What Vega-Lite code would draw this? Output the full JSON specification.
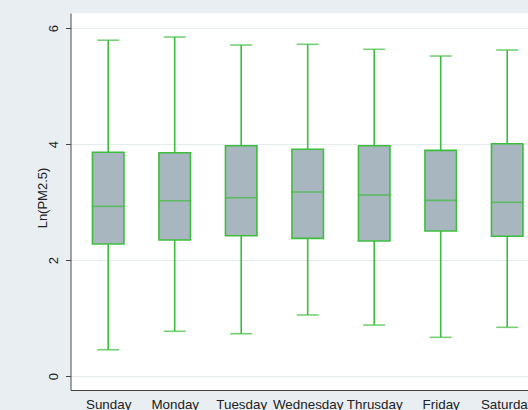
{
  "$schema": "https://vega.github.io/schema/vega-lite/v6.json",
  "width": 458,
  "height": 377,
  "autosize": "none",
  "padding": {"left": 70.5, "top": 13, "right": 0, "bottom": 20},
  "background": "#e8eef2",
  "config": {
    "view": {"fill": "white", "stroke": null},
    "font": "Liberation Sans"
  },
  "data": {
    "values": [
      {"day": "Sunday", "lower": 0.453, "q1": 2.276, "median": 2.926, "q3": 3.857, "upper": 5.79},
      {"day": "Monday", "lower": 0.771, "q1": 2.345, "median": 3.022, "q3": 3.85, "upper": 5.845},
      {"day": "Tuesday", "lower": 0.729, "q1": 2.419, "median": 3.074, "q3": 3.971, "upper": 5.707},
      {"day": "Wednesday", "lower": 1.052, "q1": 2.374, "median": 3.172, "q3": 3.909, "upper": 5.719},
      {"day": "Thrusday", "lower": 0.879, "q1": 2.328, "median": 3.121, "q3": 3.971, "upper": 5.633},
      {"day": "Friday", "lower": 0.667, "q1": 2.5, "median": 3.029, "q3": 3.891, "upper": 5.517},
      {"day": "Saturday", "lower": 0.84, "q1": 2.409, "median": 2.995, "q3": 4.005, "upper": 5.621}
    ]
  },
  "encoding": {
    "x": {
      "field": "day",
      "type": "nominal",
      "sort": ["Sunday", "Monday", "Tuesday", "Wednesday", "Thrusday", "Friday", "Saturday"],
      "scale": {"type": "point", "padding": 0.4435, "align": 0.639},
      "axis": {
        "title": null,
        "labelAngle": 0,
        "ticks": false,
        "labelPadding": 7,
        "labelFontSize": 13.4,
        "labelColor": "#222",
        "domainColor": "#444",
        "domainWidth": 1,
        "grid": false,
        "labelOverlap": false
      }
    }
  },
  "layer": [
    {
      "mark": {"type": "rule", "color": "#3cbe3c", "strokeWidth": 1.6},
      "encoding": {
        "y": {
          "field": "lower",
          "type": "quantitative",
          "scale": {"domain": [-0.241, 6.259], "nice": false, "zero": false},
          "axis": {
            "title": "Ln(PM2.5)",
            "values": [0, 2, 4, 6],
            "format": "d",
            "labelAngle": 270,
            "labelAlign": "center",
            "labelBaseline": "bottom",
            "labelPadding": 5,
            "labelFontSize": 13,
            "labelColor": "#222",
            "tickSize": 5,
            "tickColor": "#444",
            "domainColor": "#444",
            "domainWidth": 1,
            "grid": true,
            "gridColor": "#e4ecef",
            "gridWidth": 1,
            "titleFontSize": 13,
            "titleFontWeight": "normal",
            "titleColor": "#222",
            "titleAngle": 270,
            "titleAlign": "center",
            "titleBaseline": "bottom",
            "titleX": -21,
            "titleY": 184.5
          }
        },
        "y2": {"field": "upper"}
      }
    },
    {
      "mark": {"type": "tick", "color": "#3cbe3c", "thickness": 1.6, "size": 22, "orient": "horizontal"},
      "encoding": {"y": {"field": "upper", "type": "quantitative"}}
    },
    {
      "mark": {"type": "tick", "color": "#3cbe3c", "thickness": 1.6, "size": 22, "orient": "horizontal"},
      "encoding": {"y": {"field": "lower", "type": "quantitative"}}
    },
    {
      "mark": {"type": "bar", "size": 31.5, "fill": "#a8b6c0", "stroke": "#3cbe3c", "strokeWidth": 1.6},
      "encoding": {
        "y": {"field": "q1", "type": "quantitative"},
        "y2": {"field": "q3"}
      }
    },
    {
      "mark": {"type": "tick", "color": "#3cbe3c", "thickness": 1.6, "size": 31.5, "orient": "horizontal"},
      "encoding": {"y": {"field": "median", "type": "quantitative"}}
    }
  ]
}
